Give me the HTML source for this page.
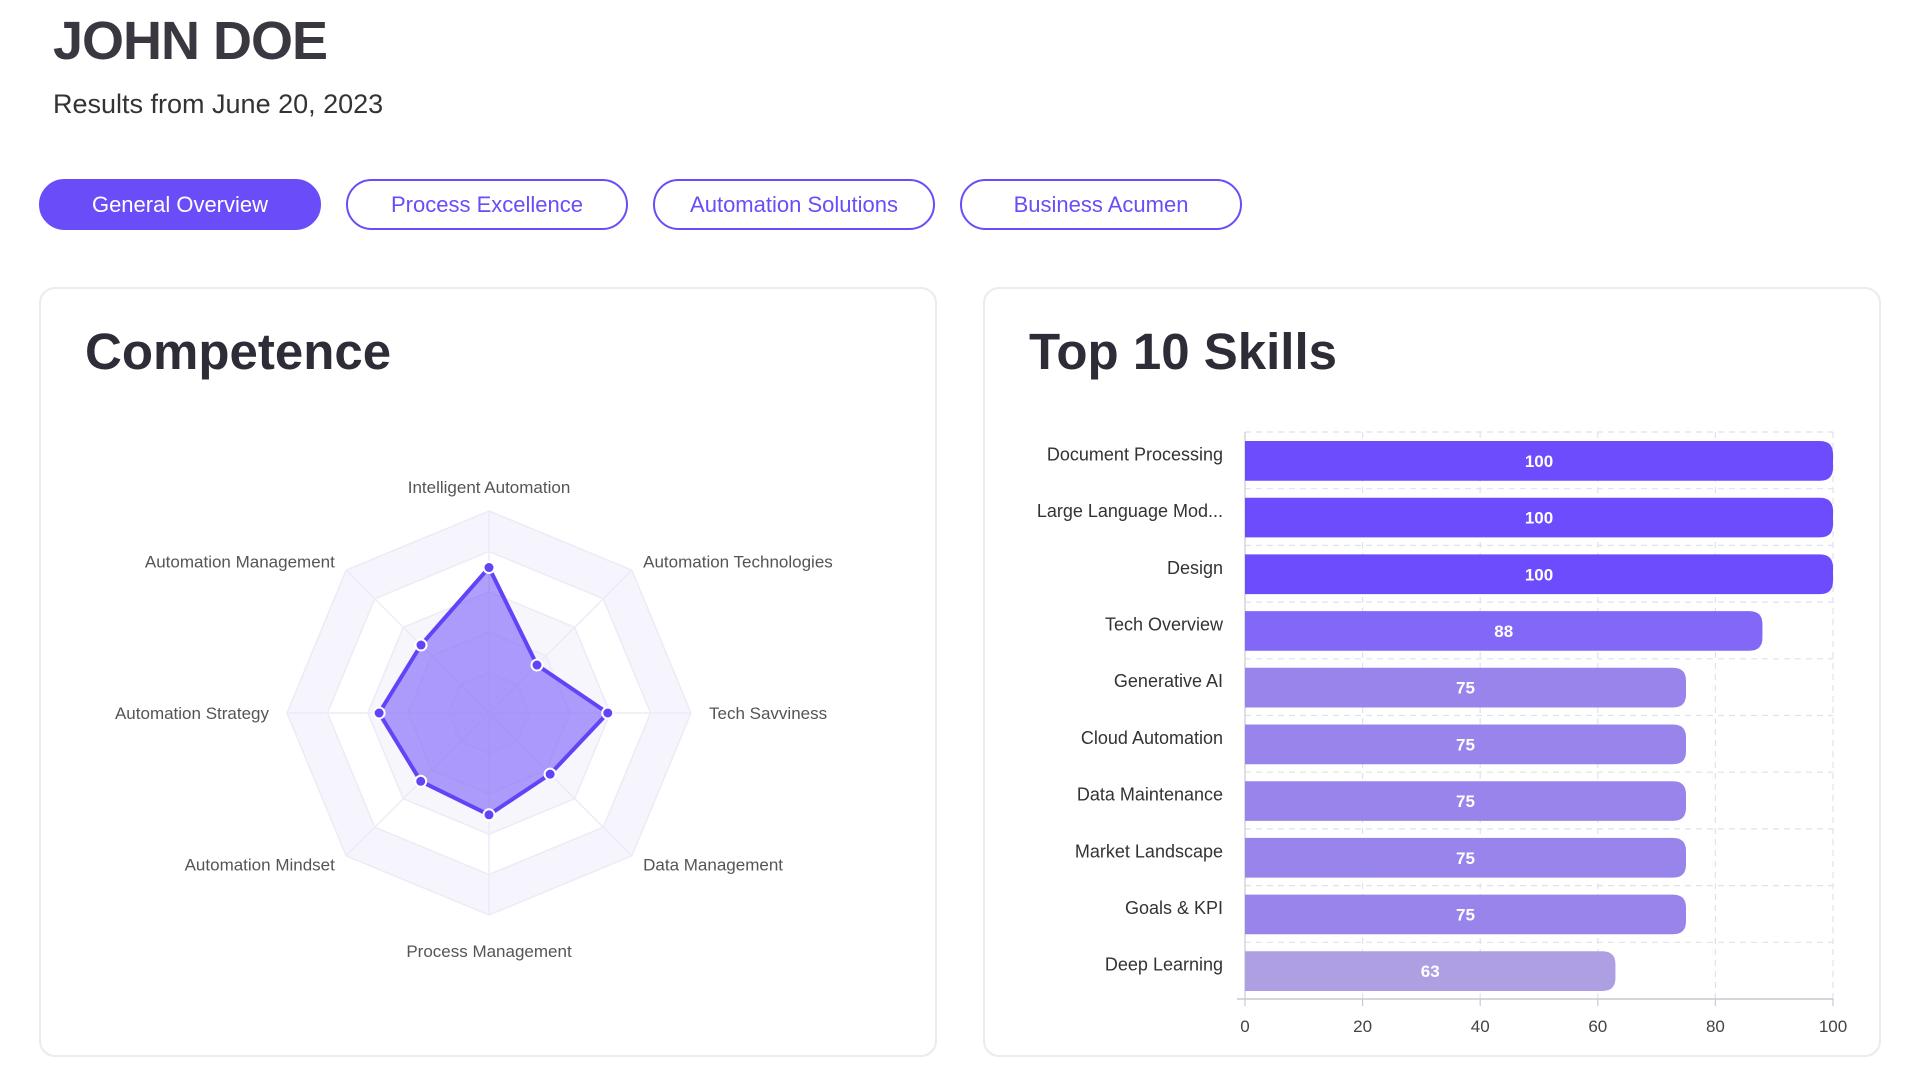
<!DOCTYPE html>
<html><head><meta charset="utf-8"><style>
*{margin:0;padding:0;box-sizing:border-box}
body{width:1920px;height:1080px;background:#fff;font-family:"Liberation Sans",sans-serif;position:relative;overflow:hidden}
.abs{position:absolute}
h1{position:absolute;left:53px;top:10px;font-size:54px;font-weight:bold;color:#3a3741;letter-spacing:-1px}
.sub{left:53px;top:89px;font-size:27px;color:#333}
.btn{position:absolute;top:179px;height:51px;width:282px;border:2.5px solid #6a4cf8;border-radius:26px;color:#6a4cf8;font-size:22px;display:flex;align-items:center;justify-content:center;background:#fff}
.btn.active{background:#6a4cf8;color:#fff}
.card{position:absolute;top:287px;height:770px;border:2px solid #ebebf0;border-radius:16px;background:#fff}
.title{position:absolute;font-size:51px;font-weight:bold;color:#2e2c36}
svg text{font-family:"Liberation Sans",sans-serif}
</style></head><body>
<h1>JOHN DOE</h1>
<div class="abs sub">Results from June 20, 2023</div>
<div class="btn active" style="left:39px">General Overview</div>
<div class="btn" style="left:346px">Process Excellence</div>
<div class="btn" style="left:653px">Automation Solutions</div>
<div class="btn" style="left:960px">Business Acumen</div>

<div class="card" style="left:39px;width:898px"></div>
<div class="title" style="left:85px;top:322px">Competence</div>
<div class="card" style="left:983px;width:898px"></div>
<div class="title" style="left:1029px;top:322px">Top 10 Skills</div>

<svg id="radar" class="abs" style="left:0;top:0" width="960" height="1080"></svg>
<svg id="bars" class="abs" style="left:960px;top:0" width="960" height="1080"></svg>

<script>
const radarAxes=["Intelligent Automation","Automation Technologies","Tech Savviness","Data Management","Process Management","Automation Mindset","Automation Strategy","Automation Management"];
const radarValues=[3.6,1.68,2.94,2.14,2.52,2.39,2.72,2.38];
const radarLevels=[1,2,3,4,5];
const radarMax=5;

const skillNames=["Document Processing","Large Language Mod...","Design","Tech Overview","Generative AI","Cloud Automation","Data Maintenance","Market Landscape","Goals & KPI","Deep Learning"];
const skillValues=[100,100,100,88,75,75,75,75,75,63];
const xTicks=[0,20,40,60,80,100];

const NS="http://www.w3.org/2000/svg";
function mk(parent,tag,attrs){const e=document.createElementNS(NS,tag);for(const k in attrs)e.setAttribute(k,attrs[k]);parent.appendChild(e);return e;}

// Radar
(function(){
const svg=document.getElementById('radar');
const cx=489,cy=713,R=202,n=radarAxes.length;
const ang=i=>-Math.PI/2+i*2*Math.PI/n;
const rScale=v=>v/radarMax*R;
const pt=(i,v)=>[cx+rScale(v)*Math.cos(ang(i)),cy+rScale(v)*Math.sin(ang(i))];
const fills=["#f1effb","#f4f3fc","#f7f6fd","#ffffff","#f6f5fd"];
for(let L=radarLevels.length-1;L>=0;L--){
  const lv=radarLevels[L];
  const p=mk(svg,'polygon',{points:radarAxes.map((a,i)=>pt(i,lv).join(',')).join(' '),fill:fills[L],stroke:'#ecebf6','stroke-width':1.5});
  
  
}
radarAxes.forEach((a,i)=>{
  const [x,y]=pt(i,radarMax);
  const l=mk(svg,'line',{x1:cx,y1:cy,x2:x,y2:y,stroke:'#ecebf6','stroke-width':1.5});
  
  
});
const poly=mk(svg,'polygon',{points:radarValues.map((v,i)=>pt(i,v).join(',')).join(' '),fill:'rgba(112,80,250,0.55)',stroke:'#6244f6','stroke-width':4,'stroke-linejoin':'round'});


radarValues.forEach((v,i)=>{
  const [x,y]=pt(i,v);
  const c=mk(svg,'circle',{cx:x,cy:y,r:5.5,fill:'#6244f6',stroke:'#fff','stroke-width':2});
  
  
});
radarAxes.forEach((a,i)=>{
  const th=ang(i),c=Math.cos(th),s=Math.sin(th);
  const lr=R+(Math.abs(s)>0.99?26:Math.abs(c)>0.99?18:20);
  let x=cx+lr*c,y=cy+lr*s+6;
  let anchor=Math.abs(c)<0.1?'middle':(c>0?'start':'end');
  if(Math.abs(c)<0.1) y=cy+(R+24)*s+(s<0?0:12)+6;
  if(Math.abs(c)>0.1&&Math.abs(c)<0.99){x=cx+(R+16)*c;y=cy+(R+0)*s*1.06+6;}
  const t=mk(svg,'text',{x:x,y:y,'text-anchor':anchor,'font-size':17,fill:'#555'});
  t.textContent=a;
  
  
});
})();

// Bars
(function(){
const svg=document.getElementById('bars');
const ox=960;
const x0=1245-ox,x1=1833-ox,top=432,bottom=999;
const xs=v=>x0+(v-xTicks[0])/(xTicks[xTicks.length-1]-xTicks[0])*(x1-x0);
const band=(bottom-top)/skillNames.length;
const colorFor=v=>v>=95?'#6c4cfd':v>=85?'#8367f6':v>=70?'#9884ea':'#ae9fe3';
for(let i=0;i<=skillNames.length;i++){
  const y=top+i*band;
  const l=mk(svg,'line',{x1:x0,y1:y,x2:x1,y2:y,stroke:'#dfe2ec','stroke-width':1.2,'stroke-dasharray':i==skillNames.length?'':'6 5'});
  
  
}
xTicks.forEach(v=>{
  const l=mk(svg,'line',{x1:xs(v),y1:top,x2:xs(v),y2:bottom,stroke:v===0?'#c8cad4':'#dfe2ec','stroke-width':1.2,'stroke-dasharray':v===0?'':'6 5'});
  
  
  const tk=mk(svg,'line',{x1:xs(v),y1:bottom,x2:xs(v),y2:bottom+7,stroke:'#c8cad4','stroke-width':1.2});
  
  
  const t=mk(svg,'text',{x:xs(v),y:bottom+33,'text-anchor':'middle','font-size':17,fill:'#444'});
  t.textContent=v;
  
  
});
mk(svg,'line',{x1:x0-8,y1:bottom,x2:x1,y2:bottom,stroke:'#c8cad4','stroke-width':1.5});
skillNames.forEach((nm,i)=>{
  const v=skillValues[i];
  const y=top+i*band+9,h=band-17;
  const w=xs(v)-x0,r=13;
  const p=mk(svg,'path',{d:`M${x0},${y} H${x0+w-r} Q${x0+w},${y} ${x0+w},${y+r} V${y+h-r} Q${x0+w},${y+h} ${x0+w-r},${y+h} H${x0} Z`,fill:colorFor(v)});
  
  
  const vt=mk(svg,'text',{x:x0+w/2,y:y+h/2+6,'text-anchor':'middle','font-size':17,'font-weight':'bold',fill:'#fff'});
  vt.textContent=v;
  
  
  const lt=mk(svg,'text',{x:x0-22,y:top+i*band+band/2,'text-anchor':'end','font-size':18,fill:'#333'});
  lt.textContent=nm;
  
  
});
})();
</script>
</body></html>
